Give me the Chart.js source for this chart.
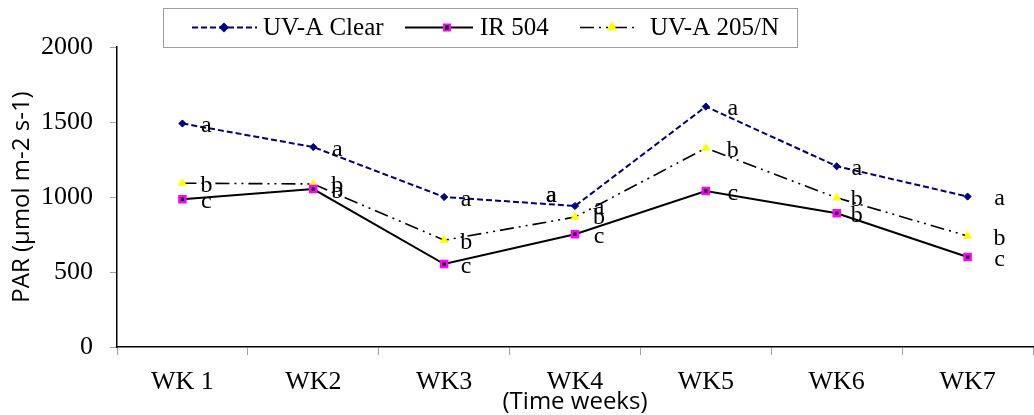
<!DOCTYPE html>
<html>
<head>
<meta charset="utf-8">
<script src="https://cdn.jsdelivr.net/npm/chart.js@4/dist/chart.umd.min.js"></script>
<style>
html,body{margin:0;padding:0;background:#fff;}
#wrap{width:1034px;height:415px;}
</style>
</head>
<body>
<div id="wrap"><canvas id="c" width="1034" height="415"></canvas></div>
<script>
// ---- data ----
const weeks = ['WK 1', 'WK2', 'WK3', 'WK4', 'WK5', 'WK6', 'WK7'];
const uvaClear = [1490, 1333, 1000, 940, 1603, 1205, 1003];
const ir504 = [985, 1053, 553, 752, 1040, 892, 600];
const uva205 = [1092, 1087, 712, 866, 1326, 995, 740];
const clearLetters = ['a', 'a', 'a', 'a', 'a', 'a', 'a'];
const ir504Letters = ['c', 'b', 'c', 'c', 'c', 'b', 'c'];
const uva205Letters = ['b', 'b', 'b', ['a', 'b'], 'b', 'b', 'b'];
const yTicks = [0, 500, 1000, 1500, 2000];
const seriesNames = ['UV-A Clear', 'IR 504', 'UV-A 205/N'];

const serif = '"Liberation Serif", "Times New Roman", serif';
const sans = '"Open Sans", "Liberation Sans", sans-serif';

// letter label placement (pixel offsets from each point)
const labelDx = [24, 24, 22, 24, 27, 20, 32];
const labelDy = 3;
const labelOverride = { '0-3': { dx: -24, dy: -10 }, '2-3': { dx: 24, dy: -9 } };

const letterPlugin = {
  id: 'letters',
  afterDatasetsDraw(chart) {
    const ctx = chart.ctx;
    ctx.save();
    ctx.font = '24px ' + serif;
    ctx.fillStyle = '#000';
    ctx.textAlign = 'center';
    ctx.textBaseline = 'alphabetic';
    chart.data.datasets.forEach((ds, di) => {
      const meta = chart.getDatasetMeta(di);
      meta.data.forEach((pt, i) => {
        const key = di + '-' + i;
        const ov = labelOverride[key];
        const dx = ov ? ov.dx : labelDx[i];
        const dy = ov ? ov.dy : labelDy;
        let txt = ds.letters[i];
        const arr = Array.isArray(txt) ? txt : [txt];
        arr.forEach((t, k) => {
          ctx.fillText(t, pt.x + dx, pt.y + dy + 5.5 + k * 10);
        });
        if (key === '0-3') ctx.fillText(arr[0], pt.x + dx + 0.6, pt.y + dy + 5.5);
      });
    });
    ctx.restore();
  }
};

const legendPlugin = {
  id: 'boxLegend',
  afterDraw(chart) {
    const ctx = chart.ctx;
    ctx.save();
    ctx.strokeStyle = '#a0a0a0';
    ctx.lineWidth = 1;
    ctx.strokeRect(163.5, 8.5, 634, 39);
    const items = [
      { x0: 192, x1: 257, mx: 224, tx: 263 },
      { x0: 405, x1: 473, mx: 447, tx: 480 },
      { x0: 580, x1: 635, mx: 612, tx: 650 }
    ];
    const y = 27.5;
    chart.data.datasets.forEach((ds, di) => {
      const it = items[di];
      ctx.save();
      ctx.strokeStyle = ds.borderColor;
      ctx.lineWidth = ds.borderWidth;
      ctx.setLineDash(ds.borderDash || []);
      ctx.beginPath();
      ctx.moveTo(it.x0, y);
      ctx.lineTo(it.x1, y);
      ctx.stroke();
      ctx.setLineDash([]);
      ctx.fillStyle = ds.pointBackgroundColor;
      ctx.strokeStyle = ds.pointBorderColor;
      Chart.helpers.drawPoint(ctx, {
        pointStyle: ds.pointStyle,
        radius: ds.pointRadius,
        rotation: 0,
        borderWidth: ds.pointBorderWidth
      }, it.mx, y);
      ctx.restore();
      ctx.font = '25px ' + serif;
      ctx.fillStyle = '#000';
      ctx.textAlign = 'left';
      ctx.textBaseline = 'middle';
      ctx.fillText(ds.label, it.tx, y + 1);
    });
    ctx.restore();
  }
};

new Chart(document.getElementById('c'), {
  type: 'line',
  data: {
    labels: weeks,
    datasets: [
      {
        label: seriesNames[0], data: uvaClear, letters: clearLetters,
        borderColor: '#000080', borderWidth: 2, borderDash: [6, 3],
        pointStyle: 'rectRot', pointRadius: 3.6, pointBackgroundColor: '#000080',
        pointBorderColor: '#000080', pointBorderWidth: 1, tension: 0
      },
      {
        label: seriesNames[1], data: ir504, letters: ir504Letters,
        borderColor: '#000000', borderWidth: 2, borderDash: [],
        pointStyle: 'rect', pointRadius: 4.2, pointBackgroundColor: '#000000',
        pointBorderColor: '#ff00ff', pointBorderWidth: 2.6, tension: 0
      },
      {
        label: seriesNames[2], data: uva205, letters: uva205Letters,
        borderColor: '#000000', borderWidth: 1.6, borderDash: [14, 5, 2, 5, 2, 5],
        pointStyle: 'triangle', pointRadius: 4.5, pointBackgroundColor: '#ffff00',
        pointBorderColor: '#ffff00', pointBorderWidth: 1, tension: 0
      }
    ]
  },
  options: {
    responsive: false,
    animation: false,
    devicePixelRatio: 1,
    layout: { autoPadding: false, padding: { top: 47, right: 1, bottom: 1, left: 0 } },
    plugins: { legend: { display: false }, tooltip: { enabled: false } },
    elements: { point: { hoverRadius: 4 } },
    scales: {
      x: {
        type: 'category',
        offset: true,
        afterFit(scale) { scale.height = 67; scale.paddingLeft = 0; scale.paddingRight = 0; },
        grid: { offset: true, drawOnChartArea: false, tickLength: 8, color: '#a0a0a0' },
        border: { color: '#000', width: 1.5 },
        ticks: { font: { family: serif, size: 26, lineHeight: 1 }, color: '#000', padding: 14, maxRotation: 0 },
        title: { display: true, text: '(Time weeks)', font: { family: sans, size: 24, lineHeight: 1 }, color: '#000', padding: { top: 0, bottom: 0 } }
      },
      y: {
        min: 0, max: 2000,
        afterBuildTicks(scale) { scale.ticks = yTicks.map(v => ({ value: v })); },
        afterFit(scale) { scale.width = 117; },
        grid: { drawOnChartArea: false, tickLength: 7, color: '#a0a0a0' },
        border: { color: '#000', width: 1.5 },
        ticks: { font: { family: serif, size: 26 }, color: '#000', padding: 17, callback: v => String(v) },
        title: { display: true, text: 'PAR (µmol m-2 s-1)', font: { family: sans, size: 24 }, color: '#000', padding: { top: 8, bottom: 0 } }
      }
    }
  },
  plugins: [letterPlugin, legendPlugin]
});
</script>
</body>
</html>
